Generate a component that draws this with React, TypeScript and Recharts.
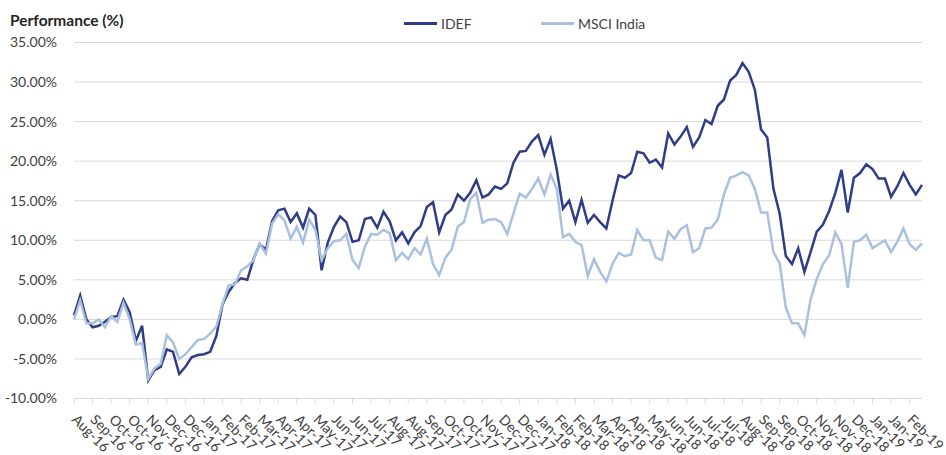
import { LineChart, Line, XAxis, YAxis, CartesianGrid, Legend } from "recharts";

// month labels under every tick (Excel repeats some months)
const tickLabels = [
  "Aug-16", "Sep-16", "Oct-16", "Oct-16", "Nov-16", "Dec-16", "Dec-16", "Jan-17",
  "Feb-17", "Feb-17", "Mar-17", "Apr-17", "Apr-17", "May-17", "Jun-17", "Jun-17",
  "Jul-17", "Aug-17", "Aug-17", "Sep-17", "Oct-17", "Oct-17", "Nov-17", "Dec-17",
  "Dec-17", "Jan-18", "Feb-18", "Feb-18", "Mar-18", "Apr-18", "Apr-18", "May-18",
  "Jun-18", "Jun-18", "Jul-18", "Jul-18", "Aug-18", "Sep-18", "Sep-18", "Oct-18",
  "Nov-18", "Nov-18", "Dec-18", "Jan-19", "Jan-19", "Feb-19",
];

// performance (%), three readings per tick interval
const idef = [
  0.5, 3.0, 0.0, -1.0, -0.8, -0.3, 0.3, 0.4, 2.5, 0.9,
  -2.7, -0.8, -7.7, -6.4, -6.0, -3.8, -4.1, -6.9, -6.0, -4.8,
  -4.5, -4.4, -4.1, -2.1, 1.9, 3.5, 4.6, 5.2, 5.0, 7.6,
  9.5, 8.8, 12.4, 13.8, 14.0, 12.3, 13.4, 11.6, 14.0, 13.2,
  6.2, 9.7, 11.7, 13.0, 12.3, 9.8, 10.0, 12.7, 12.9, 11.6,
  13.6, 12.4, 10.0, 11.0, 9.6, 11.0, 11.8, 14.2, 14.8, 11.0,
  13.2, 13.9, 15.8, 15.0, 16.0, 17.6, 15.4, 15.8, 16.8, 16.5,
  17.2, 19.8, 21.2, 21.3, 22.5, 23.3, 20.8, 22.8, 18.9, 14.0,
  15.0, 12.3, 15.1, 12.2, 13.2, 12.3, 11.5, 15.0, 18.2, 17.9,
  18.5, 21.2, 21.0, 19.8, 20.2, 19.2, 23.5, 22.1, 23.1, 24.3,
  21.8, 23.0, 25.2, 24.7, 27.0, 27.8, 30.2, 30.9, 32.4, 31.3,
  29.0, 24.0, 23.0, 16.5, 13.4, 8.0, 7.0, 9.0, 6.0, 8.5,
  11.1, 12.0, 13.7, 16.0, 18.9, 13.5, 17.9, 18.5, 19.6, 19.0,
  17.8, 17.8, 15.5, 16.8, 18.5, 17.0, 15.8, 17.0,
];

const msciIndia = [
  0.0, 2.4, -0.5, -0.5, 0.0, -1.0, 0.4, -0.3, 2.1, 0.0,
  -3.2, -3.0, -7.5, -6.2, -5.6, -2.0, -2.9, -5.0, -4.4, -3.5,
  -2.6, -2.5, -1.8, -0.9, 2.0, 4.3, 4.4, 6.2, 6.7, 7.5,
  9.6, 8.3, 12.1, 13.3, 12.5, 10.2, 11.7, 9.7, 12.6, 11.3,
  7.5, 9.0, 9.9, 10.0, 10.8, 7.5, 6.5, 9.2, 10.8, 10.7,
  11.3, 10.9, 7.5, 8.4, 7.6, 9.0, 8.2, 10.2, 7.0, 5.6,
  7.8, 8.8, 11.7, 12.3, 15.2, 16.0, 12.2, 12.6, 12.7, 12.3,
  10.8, 13.4, 15.9, 15.4, 16.5, 17.8, 15.8, 18.3, 16.5, 10.4,
  10.8, 9.8, 9.4, 5.5, 7.6, 6.0, 4.8, 7.0, 8.4, 8.0,
  8.2, 11.3, 10.0, 10.0, 7.8, 7.5, 11.1, 10.2, 11.4, 11.9,
  8.5, 9.0, 11.5, 11.6, 12.6, 15.8, 17.9, 18.2, 18.6, 18.2,
  16.5, 13.5, 13.5, 8.5, 7.1, 1.5, -0.5, -0.5, -2.0, 2.5,
  5.1, 7.0, 8.1, 11.0, 9.5, 4.0, 9.8, 10.0, 10.7, 9.0,
  9.5, 10.0, 8.5, 9.8, 11.5, 9.5, 8.8, 9.6,
];

const yTicks = [-10, -5, 0, 5, 10, 15, 20, 25, 30, 35];

const data = idef.map((v, i) => ({ t: i, idef: v, msci: msciIndia[i] }));
const xTicks = tickLabels.map((_, i) => i * 3);
const lastIndex = idef.length - 1;

const FONT = "Lato, 'Open Sans', sans-serif";
const TEXT = "#404040";
const GRID = "#d9d9d9";
const IDEF_COLOR = "#2f3c86";
const MSCI_COLOR = "#a9c1df";

const legendItems = [
  { label: "IDEF", color: IDEF_COLOR, left: 404 },
  { label: "MSCI India", color: MSCI_COLOR, left: 541 },
];

function XTick(props: any) {
  const { x, y, payload } = props;
  return (
    <text
      transform={`translate(${x - 3},${y + 15}) rotate(45)`}
      textAnchor="start"
      fill={TEXT}
      fontSize={14}
      fontFamily={FONT}
    >
      {tickLabels[Math.round(payload.value / 3)]}
    </text>
  );
}

function renderLegend() {
  return (
    <div style={{ position: "relative", width: 946, height: 40 }}>
      {legendItems.map((item) => (
        <div
          key={item.label}
          style={{
            position: "absolute",
            left: item.left,
            top: 15,
            display: "flex",
            alignItems: "center",
            fontFamily: FONT,
            fontSize: 14,
            color: TEXT,
          }}
        >
          <span
            style={{
              display: "inline-block",
              width: 33,
              height: 3,
              background: item.color,
              marginRight: 4,
            }}
          />
          {item.label}
        </div>
      ))}
    </div>
  );
}

export default function App() {
  return (
    <div
      style={{
        position: "absolute",
        left: 0,
        top: 0,
        width: 946,
        height: 455,
        background: "#fff",
      }}
    >
      <div
        style={{
          position: "absolute",
          left: 10,
          top: 11,
          fontFamily: FONT,
          fontWeight: 700,
          fontSize: 15.5,
          color: "#262626",
        }}
      >
        Performance (%)
      </div>
      <LineChart
        width={946}
        height={455}
        data={data}
        margin={{ top: 42.5, right: 24, bottom: 6.5, left: 8 }}
      >
        <CartesianGrid vertical={false} stroke={GRID} strokeWidth={1} />
        <XAxis
          dataKey="t"
          type="number"
          domain={[0, lastIndex]}
          ticks={xTicks}
          interval={0}
          height={50}
          tickSize={5}
          axisLine={{ stroke: GRID }}
          tickLine={{ stroke: GRID }}
          tick={<XTick />}
        />
        <YAxis
          domain={[-10, 35]}
          ticks={yTicks}
          width={66}
          axisLine={false}
          tickLine={false}
          tickSize={6}
          tickMargin={11}
          tickFormatter={(v: number) => `${v.toFixed(2)}%`}
          tick={{ fill: TEXT, fontSize: 14, fontFamily: FONT }}
        />
        <Legend
          layout="horizontal"
          verticalAlign="middle"
          content={renderLegend}
          wrapperStyle={{ top: 0, left: 0, width: 946 }}
        />
        <Line
          dataKey="idef"
          name="IDEF"
          type="linear"
          stroke={IDEF_COLOR}
          strokeWidth={2.5}
          dot={false}
          isAnimationActive={false}
        />
        <Line
          dataKey="msci"
          name="MSCI India"
          type="linear"
          stroke={MSCI_COLOR}
          strokeWidth={2.5}
          dot={false}
          isAnimationActive={false}
        />
      </LineChart>
    </div>
  );
}
